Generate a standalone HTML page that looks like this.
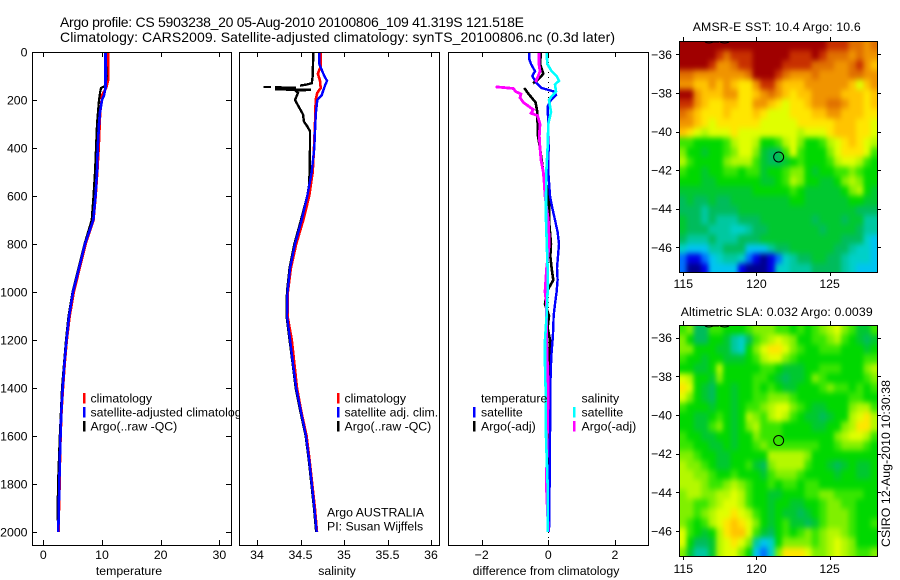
<!DOCTYPE html>
<html lang="en">
<head>
<meta charset="utf-8">
<title>Argo profile CS 5903238_20</title>
<style>
html,body{margin:0;padding:0;background:#fff;}
svg{display:block;}
text{font-family:"Liberation Sans",sans-serif;font-size:12.3px;fill:#000;}
.big{font-size:14px;}
</style>
</head>
<body>
<svg id="chart" xmlns="http://www.w3.org/2000/svg" width="900" height="580" viewBox="0 0 900 580">
<defs>
<filter id="map-soften" x="-10%" y="-10%" width="120%" height="120%" color-interpolation-filters="sRGB"><feGaussianBlur stdDeviation="2.3 2.9"/></filter>
</defs>
<rect x="0" y="0" width="900" height="580" fill="#fff"/>
<text class="big" x="60" y="27" textLength="464" lengthAdjust="spacing">Argo profile: CS 5903238_20 05-Aug-2010 20100806_109 41.319S 121.518E</text>
<text class="big" x="60" y="42" textLength="555" lengthAdjust="spacing">Climatology: CARS2009. Satellite-adjusted climatology: synTS_20100806.nc (0.3d later)</text>
<text x="692.7" y="31" textLength="168" lengthAdjust="spacing">AMSR-E SST: 10.4 Argo: 10.6</text>
<text x="680.7" y="316" textLength="192" lengthAdjust="spacing">Altimetric SLA: 0.032 Argo: 0.0039</text>
<text transform="translate(890,547) rotate(-90)" textLength="167" lengthAdjust="spacing">CSIRO 12-Aug-2010 10:30:38</text>
<g id="panels"></g>
</svg>
<script>
// ---------- shared tick labels ----------
const depthTicks = [0,200,400,600,800,1000,1200,1400,1600,1800,2000];
const tempTicks = [0,10,20,30];
const salTicks = [34,34.5,35,35.5,36];
const salTickLabels = ['34','34.5','35','35.5','36'];
const diffTicks = [-2,0,2];
const diffTickLabels = ['\u22122','0','2'];
const lonTicks = [115,120,125];
const latTicks = [-36,-38,-40,-42,-44,-46];

// ---------- temperature profiles ----------
const tempClimDepth = [0,120,150,180,200,250,300,400,500,600,700,800,900,1000,1100,1200,1300,1400,1500,1600,1700,1800,1900,2000];
const tempClim = [11.02,11.02,10.7,10.0,9.95,9.7,9.6,9.44,9.2,8.93,8.55,7.2,6.2,5.2,4.5,4.0,3.65,3.35,3.1,2.95,2.85,2.78,2.68,2.6];
const tempSatDepth = [0,150,180,200,250,300,400,500,600,700,800,900,1000,1100,1200,1300,1400,1500,1600,1700,1800,1900,2000];
const tempSat = [10.6,10.6,10.34,10.0,9.66,9.49,9.27,9.15,8.89,8.52,7.1,6.1,5.06,4.4,3.95,3.6,3.3,3.07,2.93,2.81,2.73,2.64,2.55];
const tempArgoDepth = [0,100,140,150,170,200,300,400,500,600,700,800,900,1000,1100,1200,1400,1600,1800,1900,2000];
const tempArgo = [10.56,10.8,10.6,9.83,9.66,9.49,9.15,8.98,8.81,8.55,8.25,7.02,6.0,4.97,4.3,3.87,3.18,2.81,2.5,2.45,2.5];

// ---------- salinity profiles ----------
const salClimDepth = [0,60,90,120,150,170,200,300,400,500,600,700,800,900,1000,1100,1200,1300,1400,1500,1600,1700,1800,1900,2000];
const salClim = [34.732,34.732,34.70,34.724,34.732,34.693,34.675,34.667,34.655,34.64,34.60,34.532,34.45,34.39,34.355,34.35,34.40,34.43,34.46,34.51,34.57,34.605,34.635,34.665,34.69];
const salSatDepth = [0,50,100,120,140,160,180,200,250,300,400,500,600,700,800,900,1000,1100,1200,1300,1400,1500,1600,1700,1800,1900,2000];
const salSat = [34.716,34.716,34.774,34.805,34.782,34.762,34.744,34.693,34.678,34.67,34.659,34.629,34.578,34.514,34.437,34.38,34.35,34.345,34.38,34.414,34.45,34.506,34.563,34.6,34.63,34.66,34.686];
const salArgoDepth = [0,100,130,135,140,143,146,146,146.5,147,149,150,151,152,153,154,155,156,157,158,160,162,170,200,230,260,290,310,330,400,550,600,700,800,900,1000,1100,1200,1300,1400,1500,1600,1700,1800,1900,2000];
const salArgo = [34.647,34.64,34.63,34.578,34.494,null,34.072,34.161,null,34.207,34.45,34.207,34.45,34.207,34.45,34.207,34.45,34.207,34.45,34.62,34.437,34.448,34.471,34.437,34.483,34.529,34.54,34.578,34.609,34.609,34.601,34.578,34.506,34.43,34.375,34.345,34.34,34.375,34.41,34.445,34.50,34.56,34.595,34.625,34.655,34.68];

// ---------- difference-from-climatology profiles ----------
const diffTempSatDepth = [0,30,50,80,100,130,150,165,180,200,228,300,400,500,600,650,700,750,800,850,900,950,1000,1050,1100,1150,1200,1250,1300,1350,1400,1500,1600,1700,1800,2000];
const diffTempSat = [-.57,-.57,-.52,-.40,-.48,-.35,-.20,.18,.23,.08,-.02,0,.01,0,.05,.12,.20,.28,.32,.29,.26,.28,.25,.20,.16,.15,.13,.10,.08,.07,.06,.06,.05,.04,.04,.02];
const diffTempArgoDepth = [0,50,90,100,120,130,140,150,170,190,210,250,300,350,400,500,600,700,750,800,850,900,950,1000,1050,1100,1150,1200,1300,1400,1600,2000];
const diffTempArgo = [-.22,-.25,-.15,-.20,-.35,-.46,null,-.72,-.62,-.50,-.38,-.33,-.32,-.31,-.25,-.15,.02,.02,.05,.08,.06,.10,.15,-.05,-.10,.02,-.02,.05,.05,.03,.02,0];
const diffSalSatDepth = [0,50,80,100,120,135,165,185,200,250,300,400,500,600,700,900,1000,1100,1200,1300,1400,1600,1800,2000];
const diffSalSat = [-.05,-.03,.10,.25,.32,.20,.23,.10,.02,.08,0,-.02,-.06,-.07,-.07,-.02,-.02,-.05,-.10,-.10,-.08,-.07,-.02,-.02];
const diffSalArgoDepth = [0,50,80,100,125,135,145,148,152,165,175,190,210,225,240,255,265,300,350,400,450,500,550,600,700,800,900,1000,1050,1200,1400,1600,1800,2000];
const diffSalArgo = [-.28,-.28,-.25,-.30,-.38,null,-1.58,-1.35,-1.05,-.98,-.82,-.85,-.75,-.60,-.45,-.52,-.32,-.25,-.27,-.25,-.22,-.15,-.12,-.10,0,.03,-.05,-.10,-.05,-.05,0,-.03,-.06,0];

// ---------- map fields (one letter per cell: a = lowest level, s = highest level) ----------
const sstRows = [
"ssssssssssssssssssssrrrqqpq",
"sssssrqrrrsssssrrrsrqqqpqpp",
"ssssrppqrrssssrrrrqqqppqrpo",
"qqpppppppqsssrqpppqppppqqpp",
"ppoopoponnprrpoooppppppomop",
"sspoooppnnopqponooppppooono",
"rrponnoonnpponmnnoppqqpoono",
"qponnnonnnonmmmnnnooppooonn",
"pponmnnnnnnmmmmmnnnnnooonnm",
"onmlmmmnmmmmmmmmlmmmnooonnm",
"jjiiiijlmmliijlmkiijlmnonml",
"kiihiijkmmkhggjmjiiikmnnnmj",
"ljiiiikllljhgghijiiijlmmlji",
"jiihiijjijjhiijkkihiijjkjii",
"iiihhiiiiiihhijlkiihhiklkii",
"hhhhhhhhhhiiiiijihhhhhiklih",
"ghgghgghhhhhhhhiihhhhhhiihh",
"gggfgggghhhhhhhhhhhhhhhhggg",
"hggfgfffggghhhhhhhghhhghhff",
"hgggfffeefgghhhhhhhghhhhgff",
"gfffgfffggghhhhhhhhhhhggged",
"edddffgggdddfgghhhhhhggfeed",
"cbbcdeffecbabcefgghhggfeeed",
"caabddddbaaabeefffggggfeddd"
];
const slaRows = [
"jkggjjiiijkkkjjijijklmkjhhj",
"kiggiihfegjklmlkiijjkljihgh",
"kkiiihhfeikmnnmkjiijjjiiihi",
"jiihiihhhijlmmkjiiiiiiiiijj",
"iihhiliiiiijjihhhiijjjiiikl",
"mliihkiiiijjihghhikjiiiiijk",
"nmihgiihiijijihhiiijkjjijij",
"mkihgiihiijjkkkjiiiiiiijjii",
"jiiihiihijjklmmkjihhiiikllj",
"iihhijihilkjlmljihhghiilmnl",
"iihhjkihikljjjiiiihhiiklnnl",
"jiihhiihiikjjjiiiiiiiklmmlj",
"jjiihhihiijkjjjjjjjiijkkkji",
"kkjiihhiiiiilllllkiiiiiiiii",
"lkkjihhiijhgklllljiihghihhi",
"llkkjiijiiihjkkkjiiiihiihhi",
"lllkjjklkjiijijjijjiiiiiiii",
"kllkkllmljiihhiiijjkkjjjjii",
"kkjjklmmljiihiihhiijkkjjiii",
"kkjklmmnmljihihhghijkkkjiii",
"kjijlmnonmkihijhhghjkkkjiij",
"mjihilnoomjhgijijkjkllkjiii",
"migghlmnmkfdeikkkkjklmlkiii",
"khffhlmmkidceknnnmkklmlkjjk"
];
const levelColors = ['#00008f','#0000e8','#0070ff','#00c4f0','#00d0c8','#00c8a0','#00bc5c','#00c830','#00d800','#38e600','#80f000','#b4f800','#e0ff00','#ffe600','#ffc400','#f09400','#e07000','#c83000','#a00000'];
const floatLon = 121.518;
const floatLat = -41.319;

// ---------- axis functions ----------
const yDepth = d => 52 + d * 0.24;
const xTemp = t => 43.3 + t * 5.87;
const xSal = s => 257 + (s - 34) * 87;
const xDiff = v => 548.3 + v * 33.3;
const xLon = lon => 683.3 + (lon - 115) * 14.63;
const ySstLat = lat => 54.3 + (-36 - lat) * 19.3;
const ySlaLat = lat => 337.7 + (-36 - lat) * 19.33;

const root = document.getElementById('panels');
const NS = 'http://www.w3.org/2000/svg';
function mk(tag, props, parent) {
  const el = document.createElementNS(NS, tag);
  for (const k in props) el.setAttribute(k, props[k]);
  (parent || root).appendChild(el);
  return el;
}
function lbl(str, x, y, anchor, parent) {
  const t = mk('text', {x: x, y: y, 'text-anchor': anchor || 'start'}, parent);
  t.textContent = str;
  return t;
}
function drawSeries(depths, values, xf, color, width, parent) {
  let pts = [];
  const flush = () => {
    if (pts.length > 1) {
      const line = mk('polyline', {points: pts.join(' '), fill: 'none', stroke: color, 'stroke-width': width, 'shape-rendering': 'crispEdges', 'stroke-linejoin': 'miter'}, parent);
      
      
    }
    pts = [];
  };
  values.forEach((v, i) => {
    if (v === null) { flush(); return; }
    pts.push(xf(v).toFixed(1) + ',' + yDepth(depths[i]).toFixed(1));
  });
  flush();
}
function frameAndTicks(x0, y0, w, h, g, xTicks, xf, yTicks) {
  const fr = mk('rect', {x: x0 + .5, y: y0 + .5, width: w, height: h, fill: 'none', stroke: '#000', 'stroke-width': 1, 'shape-rendering': 'crispEdges'}, g);
  
  
  xTicks.forEach(v => {
    const x = Math.round(xf(v)) + .5;
    const t1 = mk('line', {x1: x, x2: x, y1: y0, y2: y0 + 5, stroke: '#000', 'shape-rendering': 'crispEdges'}, g);
    
    
    const t2 = mk('line', {x1: x, x2: x, y1: y0 + h, y2: y0 + h - 5, stroke: '#000', 'shape-rendering': 'crispEdges'}, g);
    
    
  });
  if (yTicks) yTicks.forEach(v => {
    const y = Math.round(yDepth(v)) + .5;
    const t1 = mk('line', {x1: x0, x2: x0 + 5, y1: y, y2: y, stroke: '#000', 'shape-rendering': 'crispEdges'}, g);
    
    
    const t2 = mk('line', {x1: x0 + w, x2: x0 + w - 5, y1: y, y2: y, stroke: '#000', 'shape-rendering': 'crispEdges'}, g);
    
    
  });
}
function legendMark(x, y, color, g) {
  const m = mk('rect', {x: x - 1, y: y, width: 2.5, height: 10.5, fill: color, 'shape-rendering': 'crispEdges'}, g);
  
  
}
function legendText(str, x, y, g) {
  const t = lbl(str, x, y, 'start', g);
  
  
}
function panelBase(x0, w, name) {
  const g = mk('g', {});
  
  
  const bg = mk('rect', {x: x0, y: 52, width: w, height: 493, fill: '#fff'}, g);
  
  
  return g;
}
function xTickLabels(ticks, labels, xf, g) {
  ticks.forEach((v, i) => {
    const t = lbl(labels[i], xf(v), 559, 'middle', g);
    
    
  });
}

// ---------- panel 1: temperature ----------
const p1 = panelBase(32, 199, 'temperature-panel');
drawSeries(tempClimDepth, tempClim, xTemp, '#ff0000', 2.6, p1);
drawSeries(tempArgoDepth, tempArgo, xTemp, '#000000', 2.2, p1);
drawSeries(tempSatDepth, tempSat, xTemp, '#0000ff', 2.6, p1);
frameAndTicks(32, 52, 199, 493, p1, tempTicks, xTemp, depthTicks);
depthTicks.forEach(d => {
  const t = lbl(String(d), 27.5, yDepth(d) + 4.5, 'end', p1);
  
  
});
xTickLabels(tempTicks, tempTicks.map(String), xTemp, p1);
const xt1 = lbl('temperature', 129, 575, 'middle', p1);


legendMark(84, 393, '#ff0000', p1);
legendMark(84, 407, '#0000ff', p1);
legendMark(84, 421, '#000000', p1);
legendText('climatology', 90.5, 402.5, p1);
legendText('satellite-adjusted climatology', 90.5, 416.5, p1);
legendText('Argo(..raw -QC)', 90.5, 430.5, p1);

// ---------- panel 2: salinity ----------
const p2 = panelBase(239, 200, 'salinity-panel');
drawSeries(salClimDepth, salClim, xSal, '#ff0000', 2.6, p2);
drawSeries(salArgoDepth, salArgo, xSal, '#000000', 2.4, p2);
drawSeries(salSatDepth, salSat, xSal, '#0000ff', 2.4, p2);
frameAndTicks(239, 52, 200, 493, p2, salTicks, xSal, null);
xTickLabels(salTicks, salTickLabels, xSal, p2);
const xt2 = lbl('salinity', 337, 575, 'middle', p2);


legendMark(338, 393, '#ff0000', p2);
legendMark(338, 407, '#0000ff', p2);
legendMark(338, 421, '#000000', p2);
legendText('climatology', 344.5, 402.5, p2);
legendText('satellite adj. clim.', 344.5, 416.5, p2);
legendText('Argo(..raw -QC)', 344.5, 430.5, p2);
legendText('Argo AUSTRALIA', 327, 516.5, p2);
legendText('PI: Susan Wijffels', 327, 530.5, p2);

// ---------- panel 3: differences ----------
const p3 = panelBase(448, 200, 'difference-panel');
const zero = mk('line', {x1: xDiff(0), x2: xDiff(0), y1: 52, y2: 545, stroke: '#000', 'stroke-width': 1, 'stroke-dasharray': '1 4', 'shape-rendering': 'crispEdges'}, p3);


drawSeries(diffTempArgoDepth, diffTempArgo, xDiff, '#000000', 2.6, p3);
drawSeries(diffTempSatDepth, diffTempSat, xDiff, '#0000ff', 2.4, p3);
drawSeries(diffSalArgoDepth, diffSalArgo, xDiff, '#ff00ff', 2.8, p3);
drawSeries(diffSalSatDepth, diffSalSat, xDiff, '#00ffff', 2.6, p3);
frameAndTicks(448, 52, 200, 493, p3, diffTicks, xDiff, null);
xTickLabels(diffTicks, diffTickLabels, xDiff, p3);
const xt3 = lbl('difference from climatology', 546, 575, 'middle', p3);


legendText('temperature', 481, 402.5, p3);
legendText('satellite', 481, 416.5, p3);
legendText('Argo(-adj)', 481, 430.5, p3);
legendText('salinity', 581.5, 402.5, p3);
legendText('satellite', 581.5, 416.5, p3);
legendText('Argo(-adj)', 581.5, 430.5, p3);
legendMark(474, 407, '#0000ff', p3);
legendMark(474, 421, '#000000', p3);
legendMark(574, 407, '#00ffff', p3);
legendMark(574, 421, '#ff00ff', p3);

// ---------- maps ----------
function drawMap(rows, x0, y0, w, h, yLat, xLabelY, name) {
  const g = mk('g', {});
  
  
  const nr = rows.length;
  const nc = rows[0].length;
  const cw = w / nc;
  const ch = h / nr;
  const clipId = name + '-clip';
  const cp = mk('clipPath', {id: clipId}, g);
  mk('rect', {x: x0, y: y0, width: w, height: h}, cp);
  const clipped = mk('g', {'clip-path': 'url(#' + clipId + ')'}, g);
  
  
  const field = mk('g', {filter: 'url(#map-soften)'}, clipped);
  
  
  rows.forEach((row, r) => {
    for (let c = 0; c < nc; c++) {
      const level = row.charCodeAt(c) - 97;
      // edge cells run past the clip so softening does not fade at the frame
      const pad = 10;
      const cx = x0 + c * cw - (c === 0 ? pad : 0);
      const cy = y0 + r * ch - (r === 0 ? pad : 0);
      const cwid = cw + .4 + (c === 0 || c === nc - 1 ? pad : 0);
      const chei = ch + .4 + (r === 0 || r === nr - 1 ? pad : 0);
      const cell = mk('rect', {x: cx.toFixed(2), y: cy.toFixed(2), width: cwid.toFixed(2), height: chei.toFixed(2), fill: levelColors[level], 'shape-rendering': 'crispEdges'}, field);
      
      
    }
  });
  const coast = mk('path', {d: `M${x0 + 26} ${y0 + 1}q4 2 8 0M${x0 + 34} ${y0 + 1}h6M${x0 + 41} ${y0 + 1}q5 2 9 0`, fill: 'none', stroke: '#000', 'stroke-width': 1}, g);
  
  
  const frame = mk('rect', {x: x0 + .5, y: y0 + .5, width: w - 1, height: h - 1, fill: 'none', stroke: '#000', 'shape-rendering': 'crispEdges'}, g);
  
  
  lonTicks.forEach(lon => {
    const x = Math.round(xLon(lon)) + .5;
    const t1 = mk('line', {x1: x, x2: x, y1: y0, y2: y0 - 4, stroke: '#000', 'shape-rendering': 'crispEdges'}, g);
    
    
    const t2 = mk('line', {x1: x, x2: x, y1: y0 + h, y2: y0 + h + 3, stroke: '#000', 'shape-rendering': 'crispEdges'}, g);
    
    
    const l = lbl(String(lon), xLon(lon), xLabelY, 'middle', g);
    
    
  });
  latTicks.forEach(lat => {
    const y = Math.round(yLat(lat)) + .5;
    const t1 = mk('line', {x1: x0, x2: x0 - 3, y1: y, y2: y, stroke: '#000', 'shape-rendering': 'crispEdges'}, g);
    
    
    const t2 = mk('line', {x1: x0 + w, x2: x0 + w + 3, y1: y, y2: y, stroke: '#000', 'shape-rendering': 'crispEdges'}, g);
    
    
    const l = lbl(String(lat).replace('-', '\u2212'), 672, yLat(lat) + 4.5, 'end', g);
    
    
  });
  const marker = mk('circle', {cx: xLon(floatLon), cy: yLat(floatLat), r: 5, fill: 'none', stroke: '#000', 'stroke-width': 1}, g);
  
  
}
drawMap(sstRows, 679, 41, 199, 232, ySstLat, 288, 'sst-map');
drawMap(slaRows, 679, 325, 199, 232, ySlaLat, 573, 'sla-map');
</script>
</body>
</html>
